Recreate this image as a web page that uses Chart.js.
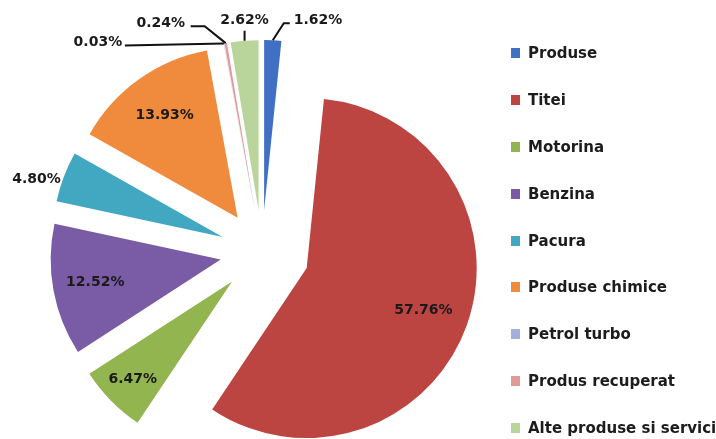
<!DOCTYPE html>
<html>
<head>
<meta charset="utf-8">
<title>Structura vanzarilor</title>
<script src="https://cdn.jsdelivr.net/npm/chart.js@4.4.0/dist/chart.umd.min.js"></script>
<style>
  body { margin: 0; background: #fff; }
  #wrap { position: relative; width: 716px; height: 439px; overflow: hidden; }
  #legend { position: absolute; left: 511px; top: 43px; margin: 0; padding: 0; list-style: none;
            font: bold 15px "DejaVu Sans", sans-serif; color: #1c1c1c; white-space: nowrap; }
  #legend li { position: relative; height: 20px; line-height: 20px; margin-bottom: 26.9px; padding-left: 17px; }
  #legend li span { position: absolute; left: 0; top: 5px; width: 9px; height: 10px; }
</style>
</head>
<body>
<div id="wrap">
  <canvas id="myChart" width="716" height="439"></canvas>
  <ul id="legend"></ul>
</div>
<script>
// date
const categorii = ['Produse', 'Titei', 'Motorina', 'Benzina', 'Pacura', 'Produse chimice',
                   'Petrol turbo', 'Produs recuperat', 'Alte produse si servicii'];
const valori = [1.62, 57.76, 6.47, 12.52, 4.80, 13.93, 0.03, 0.24, 2.62];
const culori = ['#4070C4', '#BC4542', '#93B550', '#7A5BA6', '#42A8C2', '#F08A3C',
                '#A6AFDB', '#E09A98', '#B9D59B'];
const departare = [168, 190, 168, 168, 168, 168, 168, 168, 168];

// unde se pun etichetele: 'in' = in felie, 'out' = langa felie, altfel linie de legatura
const etichete = [
  {line: [[11, -17], [17, -17]], text: [21, -20], align: 'left'},
  {in: 0.73},
  {in: 0.82},
  {in: 0.75},
  {out: true},
  {in: 0.74},
  {line: [[-99, 2]], text: [-126, -1], align: 'center'},
  {line: [[-21, -17], [-35, -17]], text: [-65, -20], align: 'center'},
  {line: [[0, -10]], text: [0, -20], align: 'center'}
];

// legenda
const legend = document.getElementById('legend');
categorii.forEach(function(nume, i) {
  const li = document.createElement('li');
  const box = document.createElement('span');
  box.style.background = culori[i];
  li.appendChild(box);
  li.appendChild(document.createTextNode(nume));
  legend.appendChild(li);
});

// feliile departate: aceeasi raza si acelasi unghi ca fara departare
const razaFixa = {
  id: 'razaFixa',
  beforeDatasetsDraw(chart) {
    chart.getDatasetMeta(0).data.forEach(function(arc) {
      const off = (arc.options.offset || 0) / 4;
      const fix = 1 - Math.sin(Math.min(Math.PI, arc.circumference));
      const ro = off * fix;
      const R = arc.outerRadius;
      const lat = ro / Math.PI / (2 * R);
      arc._vechi = [R, arc.startAngle, arc.endAngle];
      arc.outerRadius = R - ro;
      arc.startAngle -= lat;
      arc.endAngle += lat;
    });
  },
  afterDatasetsDraw(chart) {
    chart.getDatasetMeta(0).data.forEach(function(arc) {
      arc.outerRadius = arc._vechi[0];
      arc.startAngle = arc._vechi[1];
      arc.endAngle = arc._vechi[2];
    });
  }
};

// procentele
const procente = {
  id: 'procente',
  afterDatasetsDraw(chart) {
    const ctx = chart.ctx;
    ctx.save();
    ctx.font = 'bold 14px "DejaVu Sans", sans-serif';
    ctx.fillStyle = '#1a1a1a';
    ctx.strokeStyle = '#111';
    ctx.lineWidth = 2;
    ctx.textBaseline = 'middle';
    chart.getDatasetMeta(0).data.forEach(function(arc, i) {
      const mid = (arc.startAngle + arc.endAngle) / 2;
      const shift = (arc.options.offset || 0) / 4;
      const R = arc.outerRadius;
      const cos = Math.cos(mid), sin = Math.sin(mid);
      const text = valori[i].toFixed(2) + '%';
      const e = etichete[i];
      if (e.in) {
        const d = shift + R * e.in;
        ctx.textAlign = 'center';
        ctx.fillText(text, arc.x + cos * d, arc.y + sin * d);
        return;
      }
      const tx = arc.x + cos * (shift + R);
      const ty = arc.y + sin * (shift + R);
      if (e.out) {
        ctx.textAlign = 'right';
        ctx.fillText(text, tx - 3, ty + 3);
        return;
      }
      ctx.beginPath();
      ctx.moveTo(tx, ty);
      e.line.forEach(function(pt) {
        ctx.lineTo(tx + pt[0], ty + pt[1]);
      });
      ctx.stroke();
      ctx.textAlign = e.align;
      ctx.fillText(text, tx + e.text[0], ty + e.text[1]);
    });
    ctx.restore();
  }
};

const ctx = document.getElementById('myChart').getContext('2d');
const myChart = new Chart(ctx, {
  type: 'pie',
  data: {
    labels: categorii,
    datasets: [{
      data: valori,
      backgroundColor: culori,
      borderWidth: 0,
      offset: departare
    }]
  },
  options: {
    responsive: false,
    animation: false,
    radius: 170,
    layout: { padding: { left: 0, right: 192, top: 65, bottom: 0 } },
    plugins: {
      legend: { display: false },
      tooltip: { enabled: false }
    }
  },
  plugins: [razaFixa, procente]
});
</script>
</body>
</html>
